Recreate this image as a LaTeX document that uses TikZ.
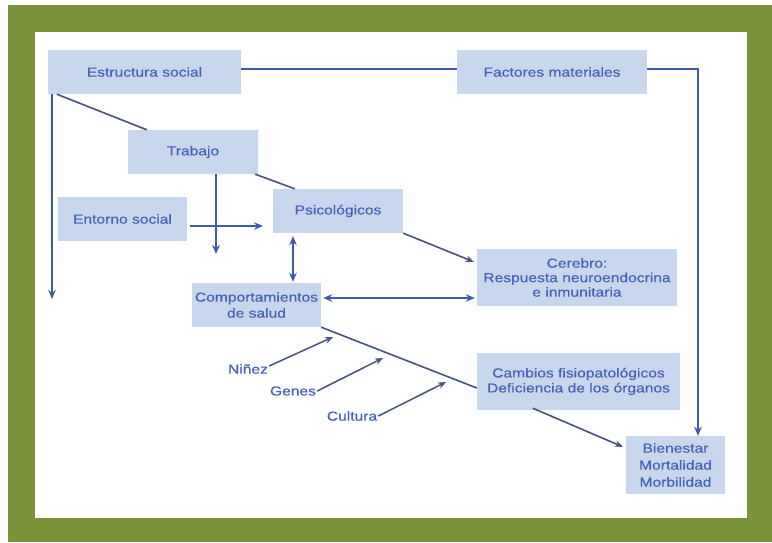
\documentclass[tikz,border=0pt]{standalone}
\usepackage{fontspec}
\setmainfont{Liberation Sans}[FakeStretch=1.2,FakeBold=0.5]
\usetikzlibrary{arrows.meta,calc}
\definecolor{frame}{HTML}{7A923A}
\definecolor{boxfill}{HTML}{C9D7EE}
\definecolor{boxtext}{HTML}{4762BA}
\definecolor{link}{HTML}{3F5AA8}
\definecolor{plainlink}{HTML}{46527F}
\begin{document}
\begin{tikzpicture}[x=1pt,y=-1pt,
  box/.style={fill=boxfill,draw=none,inner sep=0pt,align=center,text=boxtext,
    font=\fontsize{13}{16}\selectfont},
  lbl/.style={inner sep=1pt,text=boxtext,font=\fontsize{13}{16}\selectfont},
  arr/.style={draw=link,line width=1.9pt,-{Stealth[length=9pt,width=7.5pt]}},
  darr/.style={draw=link,line width=1.9pt,{Stealth[length=9pt,width=7.5pt]}-{Stealth[length=9pt,width=7.5pt]}},
  ln/.style={draw=link,line width=1.9pt},
  pln/.style={draw=plainlink,line width=1.6pt},
  thin/.style={draw=plainlink,line width=1.5pt,-{Stealth[length=8pt,width=6.5pt]}}]

% page and frame
\useasboundingbox (0,0) rectangle (772,542);
\fill[white] (0,0) rectangle (772,542);
\fill[frame] (8,5) rectangle (772,542);
\fill[white] (35,32) rectangle (747,518);

% boxes
\node[box,minimum width=193pt,minimum height=44pt] (es) at (144.5,72) {Estructura social};
\node[box,minimum width=190pt,minimum height=44pt] (fm) at (552,72) {Factores materiales};
\node[box,minimum width=130pt,minimum height=44pt] (tr) at (193,152) {Trabajo};
\node[box,minimum width=129pt,minimum height=44pt] (en) at (122.5,219) {Entorno social};
\node[box,minimum width=130pt,minimum height=44pt] (ps) at (338,211) {Psicológicos};
\node[box,minimum width=129pt,minimum height=44pt] (cs) at (256.5,305)
  {Comportamientos\\de salud};
\node[box,minimum width=200pt,minimum height=57pt,font=\fontsize{13}{14.5}\selectfont] (ce) at (577,277.5)
  {Cerebro:\\Respuesta neuroendocrina\\e inmunitaria};
\node[box,minimum width=203pt,minimum height=57pt,font=\fontsize{13}{15}\selectfont] (ca) at (578.5,381.5)
  {Cambios fisiopatológicos\\Deficiencia de los órganos};
\node[box,minimum width=99pt,minimum height=58pt,font=\fontsize{13}{17}\selectfont] (bi) at (675.5,465)
  {Bienestar\\Mortalidad\\Morbilidad};

% free-standing labels
\node[lbl] (ni) at (248,369) {Niñez};
\node[lbl] (ge) at (293,391) {Genes};
\node[lbl] (cu) at (352,416) {Cultura};

% free ends of connectors
\coordinate (esEnd) at (52,299);
\coordinate (trEnd) at (216,254);
\coordinate (enEnd) at (263,226);
\coordinate (fmCorner) at (698,69);
\coordinate (niEnd) at (333,337);
\coordinate (geEnd) at (383,358);
\coordinate (cuEnd) at (446,382);

% connectors
\draw[arr] ([xshift=4pt]es.south west) -- (esEnd);
\draw[pln] ([xshift=9pt]es.south west) -- ([xshift=19pt]tr.north west);
\draw[ln] ([yshift=3pt]es.east) -- ([yshift=3pt]fm.west);
\draw[arr] ([yshift=3pt]fm.east) -- (fmCorner) -- (fmCorner |- bi.north);
\draw[arr] ([xshift=23pt]tr.south) -- (trEnd);
\draw[arr] ([xshift=3pt,yshift=-7pt]en.east) -- (enEnd);
\draw[pln] ([xshift=-3pt]tr.south east) -- ([xshift=22pt]ps.north west);
\draw[darr] ([xshift=-45pt,yshift=-3pt]ps.south) -- ([xshift=-45pt,yshift=1pt]ps.south |- cs.north);
\draw[thin,line width=1.6pt] (ps.south east) -- ([xshift=-3pt,yshift=-13pt]ce.north west);
\draw[darr] ([xshift=2pt,yshift=7pt]cs.east) -- ([xshift=-2pt,yshift=7pt]cs.east -| ce.west);
\draw[pln] (cs.south east) -- ([yshift=-6.5pt]ca.west);
\draw[thin,line width=1.6pt] ([xshift=56pt,yshift=2pt]ca.south west) -- ([xshift=-3pt,yshift=-11pt]bi.north west);
\draw[thin] ([yshift=3pt]ni.east) -- (niEnd);
\draw[thin] (ge.east) -- (geEnd);
\draw[thin] (cu.east) -- (cuEnd);
\end{tikzpicture}
\end{document}
